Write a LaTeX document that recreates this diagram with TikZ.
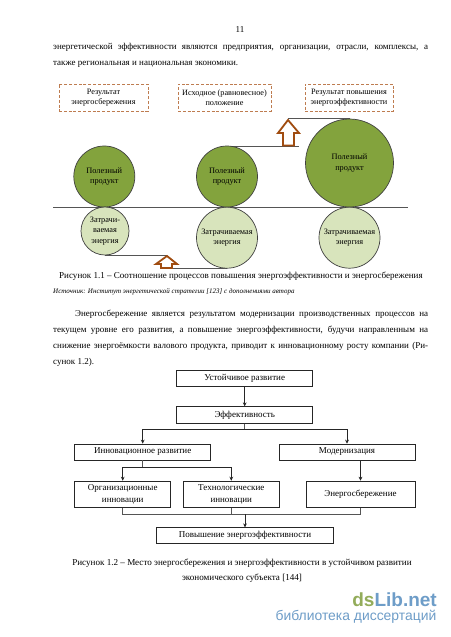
\documentclass[tikz,border=0pt]{standalone}
\usepackage{fontspec}
\setmainfont{Liberation Serif}
\newfontfamily\wmfont{Liberation Sans}
\usetikzlibrary{arrows.meta}
\definecolor{gdark}{HTML}{83A33D}
\definecolor{glight}{HTML}{D8E4BC}
\definecolor{dashb}{HTML}{BE7C50}
\definecolor{arrb}{HTML}{A04C10}
\definecolor{wmg}{HTML}{93AC5A}
\definecolor{wmb}{HTML}{6E9DC8}
\definecolor{lineg}{HTML}{555555}
\tikzset{
  bodyline/.style={anchor=west,inner sep=0pt,font=\fontsize{9}{10}\selectfont},
  dashbox/.style={draw=dashb,dash pattern=on 3pt off 1.8pt,line width=0.85pt,inner sep=0pt,align=center,font=\fontsize{8.2}{10.5}\selectfont,minimum height=27pt},
  bigc/.style={circle,draw=black!75,line width=0.7pt,fill=gdark,inner sep=0pt,align=center,font=\fontsize{8.3}{10.3}\selectfont},
  smallc/.style={circle,draw=black!75,line width=0.7pt,fill=glight,inner sep=0pt,align=center,font=\fontsize{8.3}{10.3}\selectfont},
  flowbox/.style={draw=black!85,line width=0.7pt,inner sep=0pt,align=center,font=\fontsize{9}{11.5}\selectfont},
  link/.style={draw=lineg,line width=0.8pt},
  farrow/.style={draw=black!85,line width=0.8pt,-{Stealth[length=4pt,width=3.8pt]}},
  blockarrow/.style={draw=arrb,fill=white,line width=1.8pt,line join=miter}
}
\begin{document}
\begin{tikzpicture}[x=1pt,y=-1pt]
\useasboundingbox[fill=white] (0,0) rectangle (450,637);

% page text
\node[inner sep=0pt,font=\fontsize{9}{10}\selectfont] (pg) at (240,30) {11};
\node[bodyline] (t1) at (53,47) {\makebox[375pt][s]{энергетической эффективности являются предприятия, организации, отрасли, комплексы, а}};
\node[bodyline] (t2) at (53,64) {также региональная и национальная экономики.};

% dashed boxes
\node[dashbox,minimum width=89pt] (r1) at (103.5,97.5) {Результат\\энергосбережения};
\node[dashbox,minimum width=93pt] (r2) at (224.5,97.5) {Исходное (равновесное)\\положение};
\node[dashbox,minimum width=88pt] (r3) at (349,97.5) {Результат повышения\\энергоэффективности};

% axis
\coordinate (axl) at (53,207);
\coordinate (axr) at (408,207);
\draw[link] (axl) -- (axr);

% step lines
\coordinate (s1a) at (105,255);
\coordinate (s1b) at (167,255);
\coordinate (s2a) at (167,268.4);
\coordinate (s2b) at (227,268.4);
\coordinate (s3a) at (227,146);
\coordinate (s3b) at (299,146);
\coordinate (s4a) at (288,118);
\coordinate (s4b) at (349.5,118);
\draw[link] (s1a) -- (s1b);
\draw[link] (s2a) -- (s2b);
\draw[link] (s3a) -- (s3b);
\draw[link] (s4a) -- (s4b);

% circles
\node[bigc,minimum size=61pt] (p1) at (104.3,176.5) {Полезный\\продукт};
\node[bigc,minimum size=61pt] (p2) at (227,176.5) {Полезный\\продукт};
\node[bigc,minimum size=88pt] (p3) at (349.5,163) {Полезный\\продукт};
\node[smallc,minimum size=48pt] (e1) at (105,231) {Затрачи-\\ваемая\\энергия};
\node[smallc,minimum size=61pt] (e2) at (227,237.7) {Затрачиваемая\\энергия};
\node[smallc,minimum size=61pt] (e3) at (349.5,237.7) {Затрачиваемая\\энергия};

% block arrows
\draw[blockarrow] (167,256) -- (177,264) -- (172,264) -- (172,268) -- (161,268) -- (161,264) -- (156,264) -- cycle;
\draw[blockarrow] (288,120) -- (299,133) -- (294,133) -- (294,145.5) -- (283,145.5) -- (283,133) -- (278,133) -- cycle;

% captions
\node[inner sep=0pt,anchor=west,font=\fontsize{9.05}{10}\selectfont] (c1) at (59,276) {Рисунок 1.1 – Соотношение процессов повышения энергоэффективности и энергосбережения};
\node[inner sep=0pt,anchor=west,font=\fontsize{7}{8}\selectfont\itshape] (c1s) at (53,292) {Источник: Институт энергетической стратегии [123] с дополнениями автора};

% paragraph
\node[bodyline] (a1) at (75,314) {\makebox[353pt][s]{Энергосбережение является результатом модернизации производственных процессов на}};
\node[bodyline] (a2) at (53,330) {\makebox[375pt][s]{текущем уровне его развития, а повышение энергоэффективности, будучи направленным на}};
\node[bodyline] (a3) at (53,346) {\makebox[375pt][s]{снижение энергоёмкости валового продукта, приводит к инновационному росту компании (Ри-}};
\node[bodyline] (a4) at (53,362) {сунок 1.2).};

% flowchart
\node[flowbox,minimum width=136pt,minimum height=16.3pt] (b1) at (244.7,378.2) {Устойчивое развитие};
\node[flowbox,minimum width=136pt,minimum height=16.6pt] (b2) at (244.7,415) {Эффективность};
\node[flowbox,minimum width=136pt,minimum height=16pt] (b3) at (142.7,452) {Инновационное развитие};
\node[flowbox,minimum width=136pt,minimum height=16pt] (b4) at (347,452) {Модернизация};
\node[flowbox,minimum width=96pt,minimum height=26.3pt] (b5) at (122.7,494.2) {Организационные\\инновации};
\node[flowbox,minimum width=96pt,minimum height=26.3pt] (b6) at (231.3,494.2) {Технологические\\инновации};
\node[flowbox,minimum width=109pt,minimum height=26.3pt] (b7) at (360.5,494.2) {Энергосбережение};
\node[flowbox,minimum width=176.6pt,minimum height=16pt] (b8) at (245,535.7) {Повышение энергоэффективности};

\coordinate (j1) at (244.7,429);
\coordinate (j2) at (142.7,467);
\coordinate (j3) at (245,514);
\draw[farrow] (b1) -- (b2);
\draw[link] (b2.south) -- (j1);
\draw[farrow] (j1) -| (b3.north);
\draw[farrow] (j1) -| (b4.north);
\draw[link] (b3.south) -- (j2);
\draw[farrow] (j2) -| (b5.north);
\draw[farrow] (j2) -| (b6.north);
\draw[farrow] (b4.south -| b7.north) -- (b7.north);
\draw[link] (b5.south) |- (j3);
\draw[link] (b7.south) |- (j3);
\draw[link] (b6.south) -- (b6.south |- j3);
\draw[farrow] (j3) -- (b8.north);

\node[inner sep=0pt,font=\fontsize{9.1}{10}\selectfont] (c2) at (242,563) {Рисунок 1.2 – Место энергосбережения и энергоэффективности в устойчивом развитии};
\node[inner sep=0pt,font=\fontsize{9.1}{10}\selectfont] (c3) at (242,578) {экономического субъекта [144]};

% watermark
\node[inner sep=0pt,anchor=east,font=\wmfont\bfseries\fontsize{19}{22}\selectfont] (w1) at (437,600) {\textcolor{wmg}{ds}\textcolor{wmb}{Lib.net}};
\node[inner sep=0pt,anchor=east,text=wmb,font=\wmfont\fontsize{13.9}{15}\selectfont] (w2) at (436.5,616.5) {библиотека диссертаций};
\end{tikzpicture}
\end{document}
